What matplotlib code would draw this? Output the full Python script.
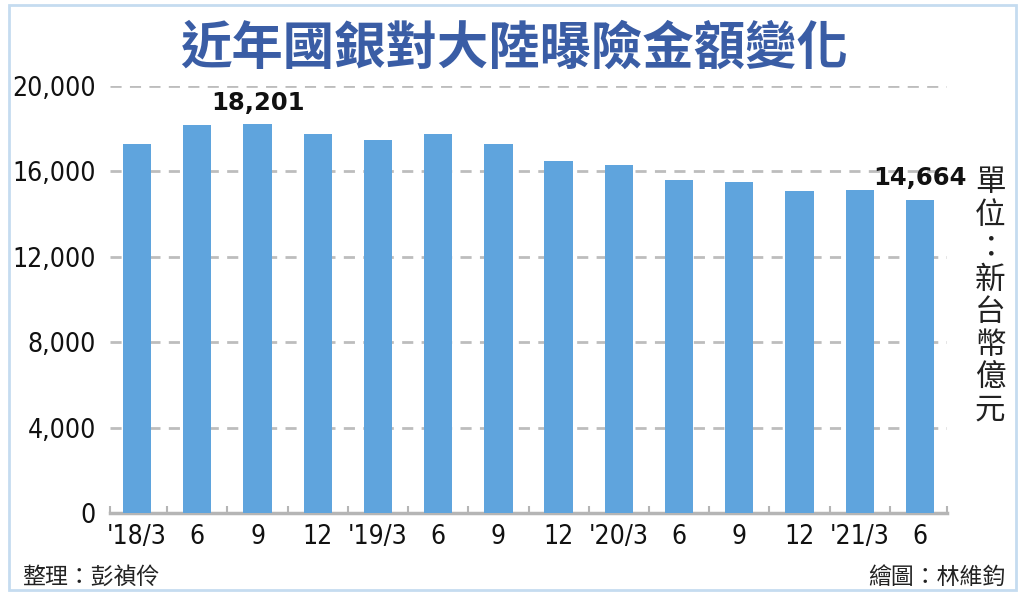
import matplotlib
matplotlib.use("Agg")
import matplotlib.pyplot as plt
from matplotlib.patches import Rectangle
from matplotlib.ticker import FixedLocator
from matplotlib import font_manager

plt.rcParams['font.family'] = ['Noto Sans CJK TC', 'DejaVu Sans']

categories = ["'18/3", "6", "9", "12", "'19/3", "6", "9", "12",
              "'20/3", "6", "9", "12", "'21/3", "6"]
values = [17280, 18180, 18201, 17750, 17470, 17750, 17280, 16480,
          16280, 15620, 15500, 15060, 15110, 14664]
yticks = [0, 4000, 8000, 12000, 16000, 20000]
ytick_labels = ["0", "4,000", "8,000", "12,000", "16,000", "20,000"]
title = "近年國銀對大陸曝險金額變化"
unit_chars = ["單", "位", "：", "新", "台", "幣", "億", "元"]
left_credit = "整理：彭禎伶"
right_credit = "繪圖：林維鈞"
highlight = {2: "18,201", 13: "14,664"}

# pick a narrow font for numbers if available
cond = None
for f in font_manager.fontManager.ttflist:
    if "Condensed" in f.fname and "DejaVuSans" in f.fname and "Bold" not in f.fname and "Oblique" not in f.fname:
        cond = f.fname
        break
if cond:
    num_font = font_manager.FontProperties(fname=cond, size=19)
else:
    num_font = font_manager.FontProperties(family=['Roboto', 'DejaVu Sans'], size=18)

W, H = 1024, 600
fig = plt.figure(figsize=(W / 100, H / 100), dpi=100)
fig.patch.set_facecolor("white")

fig.patches.append(Rectangle((9 / W, 1 - 590 / H), (1016 - 9) / W, (590 - 5) / H,
                             transform=fig.transFigure, fill=False,
                             edgecolor="#c5dcf0", linewidth=2))

ax = fig.add_axes([110 / W, 1 - 513 / H, (947 - 110) / W, (513 - 86) / H])
x = list(range(len(values)))
ax.bar(x, values, width=0.47, color="#5fa4dd", zorder=3)
ax.set_xlim(-0.45, len(values) - 1 + 0.45)
ax.set_ylim(0, 20000)

for s in ["top", "right", "left"]:
    ax.spines[s].set_visible(False)
ax.spines["bottom"].set_color("#b5b5b5")
ax.spines["bottom"].set_linewidth(2.5)

ax.set_yticks(yticks)
ax.set_yticklabels(ytick_labels)
ax.tick_params(axis="y", length=0, pad=10)
ax.set_xticks(x)
ax.set_xticklabels(categories)
ax.tick_params(axis="x", which="major", length=0, pad=8)
minor_pos = [-0.45] + [i + 0.5 for i in range(len(values) - 1)] + [len(values) - 1 + 0.45]
ax.xaxis.set_minor_locator(FixedLocator(minor_pos))
ax.tick_params(axis="x", which="minor", direction="in", length=5, width=1.5, color="#b5b5b5")

for lab in ax.get_xticklabels() + ax.get_yticklabels():
    lab.set_fontproperties(num_font)
    lab.set_color("#111111")

for yv in yticks[1:]:
    ax.axhline(yv, color="#bdbdbd", linewidth=2, linestyle=(0, (4, 3)), zorder=1)

for i, txt in highlight.items():
    ax.annotate(txt, (x[i], values[i]), xytext=(0, 7), textcoords="offset points",
                ha="center", va="bottom", fontsize=17.5, fontweight="bold",
                family=['DejaVu Sans'], color="#111111")

fig.text(514 / W, 1 - 48 / H, title, ha="center", va="center", fontsize=37,
         fontweight="bold", color="#3a5da5")

y0 = 183
for k, ch in enumerate(unit_chars):
    fig.text(990 / W, 1 - (y0 + k * 32.5) / H, ch, ha="center", va="center",
             fontsize=22, color="#222222")

fig.text(22 / W, 1 - 577 / H, left_credit, ha="left", va="center", fontsize=16.5, color="#222222")
fig.text(1005 / W, 1 - 577 / H, right_credit, ha="right", va="center", fontsize=16.5, color="#222222")

fig.savefig("out.png", dpi=100)
